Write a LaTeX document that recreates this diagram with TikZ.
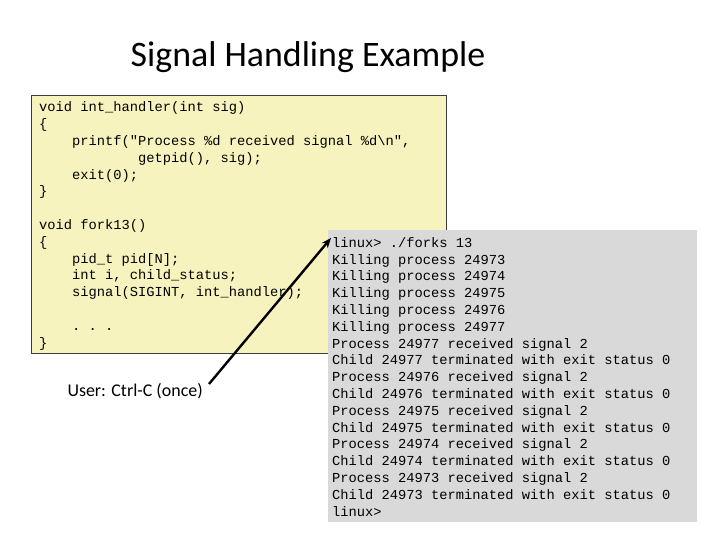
\documentclass[tikz,border=0pt]{standalone}
\usepackage{fontspec}
\setmainfont{Carlito}
\newfontfamily\codefont{Liberation Mono}
\usetikzlibrary{arrows.meta}
\definecolor{codebg}{RGB}{247,243,190}
\definecolor{codeframe}{RGB}{60,60,60}
\definecolor{termbg}{RGB}{217,217,217}
\newcommand\ind[1]{\hspace*{#1\fontcharwd\font`\x}}
\tikzset{
  code/.style={font=\codefont\fontsize{13.8}{16.86}\selectfont, align=left, inner sep=0pt, anchor=base west},
}
\begin{document}
\begin{tikzpicture}[x=1bp,y=-1bp]
\useasboundingbox (0,0) rectangle (720,540);
\node[font=\fontsize{36}{42}\selectfont] (title) at (308,57) {Signal Handling Example};
\draw[fill=codebg, draw=codeframe, line width=0.8bp] (31,95) rectangle (446,353);
\node[code] (src) at (39,347) {void int\_handler(int sig)\\
\{\\
\ind{4}printf("Process \%d received signal \%d\textbackslash n",\\
\ind{12}getpid(), sig);\\
\ind{4}exit(0);\\
\}\\
\mbox{}\\
void fork13()\\
\{\\
\ind{4}pid\_t pid[N];\\
\ind{4}int i, child\_status;\\
\ind{4}signal(SIGINT, int\_handler);\\
\mbox{}\\
\ind{4}.\ind{1}.\ind{1}.\\
\}};
\fill[termbg] (328,230) rectangle (697,522);
\node[code] (term) at (332,516) {linux> ./forks 13\\
Killing process 24973\\
Killing process 24974\\
Killing process 24975\\
Killing process 24976\\
Killing process 24977\\
Process 24977 received signal 2\\
Child 24977 terminated with exit status 0\\
Process 24976 received signal 2\\
Child 24976 terminated with exit status 0\\
Process 24975 received signal 2\\
Child 24975 terminated with exit status 0\\
Process 24974 received signal 2\\
Child 24974 terminated with exit status 0\\
Process 24973 received signal 2\\
Child 24973 terminated with exit status 0\\
linux>};
\node[font=\fontsize{18}{21}\selectfont, anchor=west] (user) at (64,391) {User: Ctrl-C (once)};
\coordinate (tip) at (331,238);
\draw[line width=2.4bp, -{Stealth[length=10bp,width=8bp]}] (209,384) -- (tip);
\end{tikzpicture}
\end{document}
